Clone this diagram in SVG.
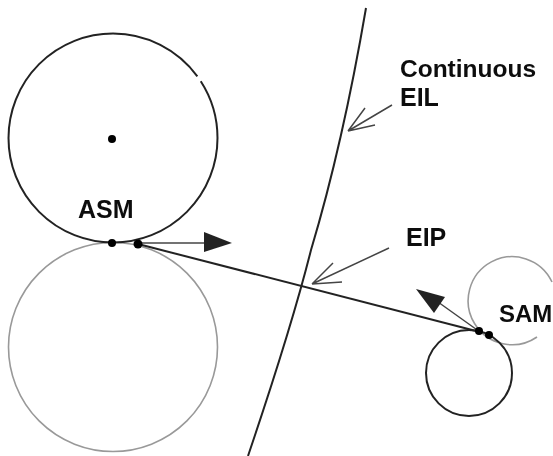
<svg xmlns="http://www.w3.org/2000/svg" width="553" height="456" viewBox="0 0 553 456">
<defs><filter id="soft" x="0" y="0" width="100%" height="100%" filterUnits="userSpaceOnUse"><feGaussianBlur stdDeviation="0.4"/></filter></defs>
<style>
.dark{fill:none;stroke:#222;stroke-width:2}
.light{fill:none;stroke:#999;stroke-width:1.6}
.thin{fill:none;stroke:#444;stroke-width:1.5}
.dot{fill:#000}
.head{fill:#222}
text{font-family:"Liberation Sans",Arial,sans-serif;font-weight:bold;font-size:25px;fill:#111}
</style>
<rect width="553" height="456" fill="#fff"/>
<g id="asm-mirror" filter="url(#soft)"><circle class="light" cx="113" cy="347" r="104.500"/></g>
<g id="sam-mirror" filter="url(#soft)"><path class="light" d="M552 282A44 44 0 1 0 537 337"/><text x="499" y="322" style="font-size:24px">SAM</text></g>
<g id="connectors" filter="url(#soft)">
<path class="dark" d="M366 8C352 90 335 170 311 250C296 310 272 385 248 456"/>
<path class="dark" d="M138 244L480 332"/>
<path class="thin" d="M138 243H206"/>
<polygon class="head" points="204,232 232,243 204,252"/>
<path class="thin" d="M480 332L438 302"/>
<polygon class="head" points="416,289 445,297 434,313"/>
<path class="thin" d="M392 105L348 131M365 108L348 131M375 125L348 131"/>
<path class="thin" d="M389 248L312 284M333 263L312 284M342 282L312 284"/>
</g>
<g id="asm" filter="url(#soft)"><circle class="dark" cx="113" cy="138" r="104.500" stroke-dasharray="590 6 60"/><circle class="dot" cx="112" cy="139" r="4"/><circle class="dot" cx="112" cy="243" r="4"/><circle class="dot" cx="138" cy="244" r="4.500"/><text x="78" y="218">ASM</text></g>
<g id="sam" filter="url(#soft)"><circle class="dark" cx="469" cy="373" r="43"/><circle class="dot" cx="479" cy="331" r="4"/><circle class="dot" cx="489" cy="335" r="4"/></g>
<g id="labels" filter="url(#soft)"><text x="400" y="77" style="font-size:24.500px">Continuous</text><text x="400" y="106">EIL</text><text x="406" y="246">EIP</text></g>
</svg>
